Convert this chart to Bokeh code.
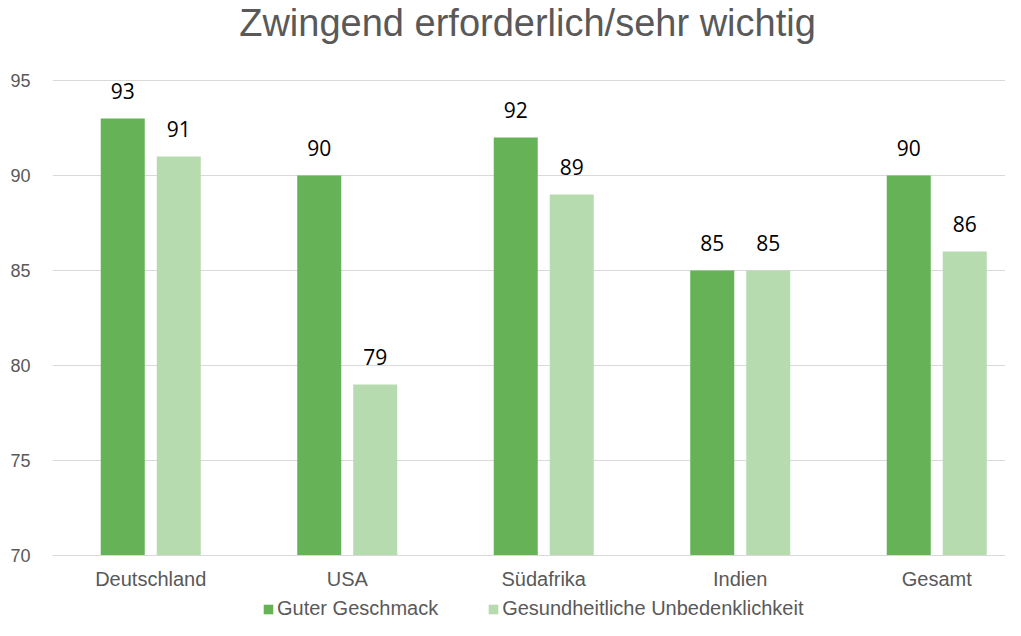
from bokeh.plotting import figure
from bokeh.layouts import column
from bokeh.models import Range1d, FixedTicker, Legend, LegendItem, ColumnDataSource
from bokeh.core.properties import value
from bokeh.embed import file_html
from bokeh.resources import INLINE

title_text = "Zwingend erforderlich/sehr wichtig"
categories = ["Deutschland", "USA", "Südafrika", "Indien", "Gesamt"]
geschmack = [93, 90, 92, 85, 90]
gesundheit = [91, 79, 89, 85, 86]
series_names = ["Guter Geschmack", "Gesundheitliche Unbedenklichkeit"]
y_ticks = [70, 75, 80, 85, 90, 95]

GREEN = "#65B257"
LIGHT = "#B5DBAE"
GREY = "#595959"

W = 1005
H1 = 592
H2 = 28
left = 52
frame_bottom = 555
px_per_cat = 196.5
px_per_unit = 19.0
y_top = 95 + 80 / px_per_unit

p = figure(width=W, height=H1, output_backend="svg", toolbar_location=None,
           x_range=Range1d(0, (W - left) / px_per_cat),
           y_range=Range1d(70, y_top),
           min_border_left=left, min_border_right=0, min_border_top=0,
           min_border_bottom=H1 - frame_bottom)
p.outline_line_color = None
p.background_fill_color = "white"

centers = [i + 0.5 for i in range(len(categories))]
off = 0.1425
bw = 0.224
lab_gap = 28 / px_per_unit
src1 = ColumnDataSource(dict(x=[c - off for c in centers], top=geschmack,
                             lab=[str(v) for v in geschmack],
                             ly=[v + lab_gap for v in geschmack]))
src2 = ColumnDataSource(dict(x=[c + off for c in centers], top=gesundheit,
                             lab=[str(v) for v in gesundheit],
                             ly=[v + lab_gap for v in gesundheit]))

r1 = p.vbar(x="x", top="top", bottom=70, width=bw, source=src1,
            fill_color=GREEN, line_color=None)
r2 = p.vbar(x="x", top="top", bottom=70, width=bw, source=src2,
            fill_color=LIGHT, line_color=None)

for s in (src1, src2):
    p.text(x="x", y="ly", text="lab", source=s, text_align="center",
           text_baseline="alphabetic", text_font=value("Open Sans"),
           text_font_size="21px", text_color="black")

# chart title
p.text(x=[(527 - left) / px_per_cat], y=[95 + (80 - 22) / px_per_unit],
       text=[title_text], text_align="center", text_baseline="alphabetic",
       text_font=value("Liberation Sans"), text_font_size="38px",
       text_color=GREY)

p.xgrid.visible = False
p.ygrid.ticker = FixedTicker(ticks=y_ticks)
p.ygrid.grid_line_color = "#D9D9D9"
p.ygrid.grid_line_width = 1

p.yaxis.ticker = FixedTicker(ticks=y_ticks)
p.yaxis.axis_line_color = None
p.yaxis.major_tick_line_color = None
p.yaxis.minor_tick_line_color = None
p.yaxis.major_tick_out = 0
p.yaxis.major_label_standoff = 22
p.yaxis.major_label_text_font = "Liberation Sans"
p.yaxis.major_label_text_font_size = "18px"
p.yaxis.major_label_text_color = GREY

p.xaxis.ticker = FixedTicker(ticks=centers)
p.xaxis.major_label_overrides = {c: n for c, n in zip(centers, categories)}
p.xaxis.axis_line_color = "#D9D9D9"
p.xaxis.major_tick_line_color = None
p.xaxis.minor_tick_line_color = None
p.xaxis.major_tick_out = 0
p.xaxis.major_label_standoff = 12
p.xaxis.major_label_text_font = "Liberation Sans"
p.xaxis.major_label_text_font_size = "20px"
p.xaxis.major_label_text_color = GREY

# legend strip (its frame is aligned with the main frame by the column)
p2 = figure(width=W, height=H2, output_backend="svg", toolbar_location=None,
            x_range=Range1d(0, 1), y_range=Range1d(0, 1),
            x_axis_type=None, y_axis_type=None,
            min_border_left=0, min_border_right=0, min_border_top=0,
            min_border_bottom=0)
p2.outline_line_color = None
p2.xgrid.visible = False
p2.ygrid.visible = False
# off-range proxies, only used for the legend swatches
l1 = p2.vbar(x=[-5.0], top=[-5.0], bottom=-6.0, width=0.1,
             fill_color=GREEN, line_color=None)
l2 = p2.vbar(x=[-5.0], top=[-5.0], bottom=-6.0, width=0.1,
             fill_color=LIGHT, line_color=None)

legend = Legend(items=[LegendItem(label=series_names[0], renderers=[l1]),
                       LegendItem(label=series_names[1], renderers=[l2])],
                location=(262 - left, 0), orientation="horizontal",
                glyph_width=12, glyph_height=12, label_height=22,
                label_standoff=3, spacing=49, padding=0, margin=0,
                border_line_color=None, background_fill_alpha=0,
                label_text_font="Liberation Sans", label_text_font_size="20px",
                label_text_color=GREY)
p2.add_layout(legend, "center")

layout = column(p, p2, spacing=0)
open("out.html", "w").write(file_html(layout, INLINE))
